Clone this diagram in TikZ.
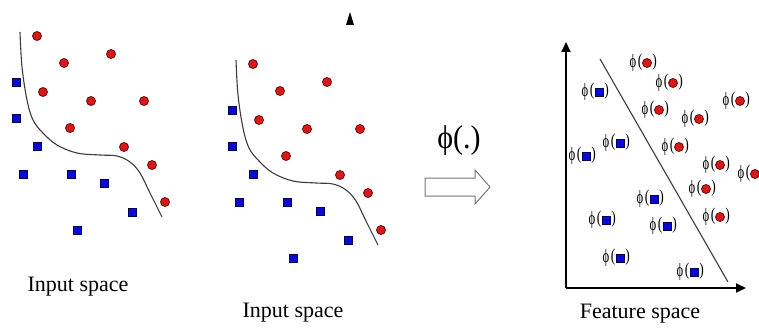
\documentclass[tikz,border=0pt]{standalone}
\usepackage{fontspec}
\setmainfont{Liberation Serif}
\usetikzlibrary{arrows.meta}
\definecolor{dotred}{RGB}{215,25,25}
\definecolor{dotredline}{RGB}{110,10,10}
\definecolor{sqblue}{RGB}{10,10,210}
\definecolor{sqblueline}{RGB}{0,0,80}
\definecolor{curvegray}{RGB}{60,60,60}
\definecolor{arrowgray}{RGB}{120,120,120}
\newcommand\featphi{\scalebox{0.85}[1.25]{ϕ}}
\newcommand\featlp{\scalebox{0.9}[1.2]{(}}
\newcommand\featrp{\scalebox{0.9}[1.2]{)}}
\tikzset{
 reddot/.style={circle, fill=dotred, draw=dotredline, line width=0.8pt, minimum size=9pt, inner sep=0pt},
 bluesq/.style={rectangle, fill=sqblue, draw=sqblueline, line width=0.8pt, minimum size=8pt, inner sep=0pt},
 boundary/.style={draw=curvegray, line width=1.1pt},
 spacelabel/.style={font=\fontsize{22}{24}\selectfont, inner sep=0pt},
 phitxt/.style={font=\fontsize{15}{16}\selectfont, inner sep=0pt},
 axisline/.style={line width=1.8pt, -{Triangle[length=10pt,width=9pt]}},
 inputpanel/.pic={
  \draw[boundary] plot[smooth,tension=0.6] coordinates {(20,32) (22,67) (27,100) (33,120) (43,133) (57,145) (77,153) (100,155) (117,156) (130,162) (140,173) (150,193) (162,217)};
  \node[reddot] (-r1) at (37,36) {};
  \node[reddot] (-r2) at (111,54) {};
  \node[reddot] (-r3) at (64,63) {};
  \node[reddot] (-r4) at (43,92) {};
  \node[reddot] (-r5) at (91,101) {};
  \node[reddot] (-r6) at (144,101) {};
  \node[reddot] (-r7) at (70,128) {};
  \node[reddot] (-r8) at (124,147) {};
  \node[reddot] (-r9) at (152,165) {};
  \node[reddot] (-r10) at (165,202) {};
  \node[bluesq] (-b1) at (16,82) {};
  \node[bluesq] (-b2) at (16,118) {};
  \node[bluesq] (-b3) at (37,146) {};
  \node[bluesq] (-b4) at (23,174) {};
  \node[bluesq] (-b5) at (71,174) {};
  \node[bluesq] (-b6) at (104,183) {};
  \node[bluesq] (-b7) at (132,212) {};
  \node[bluesq] (-b8) at (77,230) {};
 },
 redphi/.pic={
  \node[phitxt] (-p) at (-14,0) {\featphi};
  \node[phitxt] (-l) at (-7,-0.5) {\featlp};
  \node[reddot] (-m) at (0,0) {};
  \node[phitxt] (-r) at (7.5,-0.5) {\featrp};
 },
 redphicut/.pic={
  \node[phitxt] (-p) at (-14,0) {\featphi};
  \node[phitxt] (-l) at (-7,-0.5) {\featlp};
  \node[reddot] (-m) at (0,0) {};
 },
 bluephi/.pic={
  \node[phitxt] (-p) at (-14,0) {\featphi};
  \node[phitxt] (-l) at (-7,-0.5) {\featlp};
  \node[bluesq] (-m) at (0,0) {};
  \node[phitxt] (-r) at (7.5,-0.5) {\featrp};
 }
}
\begin{document}
\begin{tikzpicture}[x=1pt,y=-1pt]
\clip (0,0) rectangle (759,329);
\fill[white] (0,0) rectangle (759,329);
% input spaces
\pic (pA) at (0,0) {inputpanel};
\pic (pB) at (216,28) {inputpanel};
\node[spacelabel] (lA) at (78,287) {Input space};
\node[spacelabel] (lB) at (293,313) {Input space};
% stray triangle
\fill[black] (346,25) -- (350,12) -- (354,25) -- cycle;
% mapping
\node[font=\fontsize{30}{32}\selectfont, inner sep=0pt] (phi) at (459,141) {\scalebox{1}[1.1]{ϕ(.)}};
\draw[arrowgray, line width=1pt, fill=white] (425,178) -- (475,178) -- (475,170) -- (490,187) -- (475,204) -- (475,196) -- (425,196) -- cycle;
% feature space
\coordinate (O) at (566,288);
\coordinate (Ytip) at (566,42);
\coordinate (Xtip) at (746,288);
\draw[axisline] (O) -- (Ytip);
\draw[axisline] (O) -- (Xtip);
\coordinate (s1) at (600,59);
\coordinate (s2) at (728,282);
\draw[boundary] (s1) -- (s2);
\pic (fr1) at (647,63) {redphi};
\pic (fr2) at (673,83) {redphi};
\pic (fr3) at (740,101) {redphi};
\pic (fr4) at (659,110) {redphi};
\pic (fr5) at (699,119) {redphi};
\pic (fr6) at (679,147) {redphi};
\pic (fr7) at (720,165) {redphi};
\pic (fr8) at (755,174) {redphicut};
\pic (fr9) at (706,189) {redphi};
\pic (fr10) at (720,217) {redphi};
\pic (fb1) at (599,92) {bluephi};
\pic (fb2) at (620,143) {bluephi};
\pic (fb3) at (586,156) {bluephi};
\pic (fb4) at (654,199) {bluephi};
\pic (fb5) at (606,220) {bluephi};
\pic (fb6) at (667,226) {bluephi};
\pic (fb7) at (620,258) {bluephi};
\pic (fb8) at (694,272) {bluephi};
\node[spacelabel] (lF) at (640,314) {Feature space};
\end{tikzpicture}
\end{document}
